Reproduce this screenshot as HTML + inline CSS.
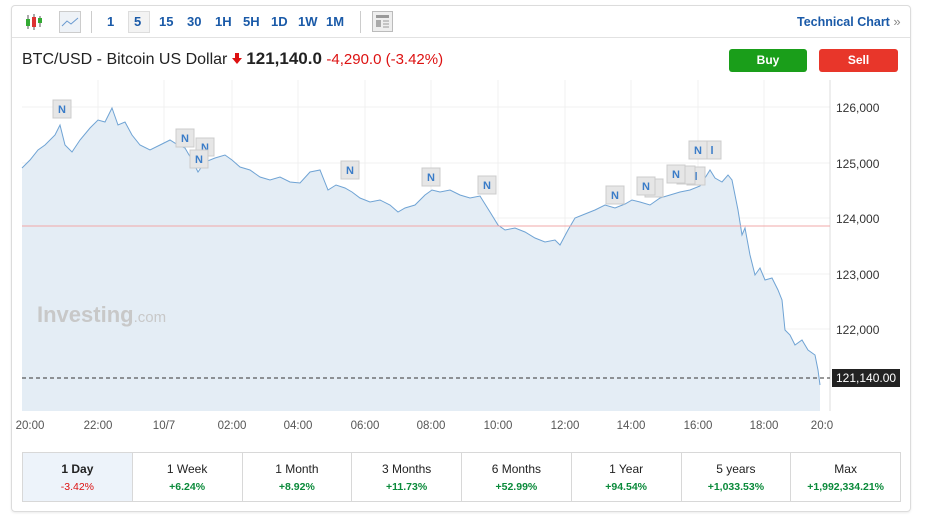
<!DOCTYPE html>
<html><head><meta charset="utf-8"><style>
body{margin:0;width:926px;height:522px;background:#fff;font-family:"Liberation Sans",sans-serif;position:relative;overflow:hidden}
.card{position:absolute;left:11px;top:5px;width:898px;height:505px;border:1px solid #dcdcdc;border-radius:4px;box-shadow:0 1px 2px rgba(0,0,0,.08)}
.tb{position:absolute;left:0;top:0;width:898px;height:31px;border-bottom:1px solid #e2e2e2}
.tb span{position:absolute;top:8px;font-size:13px;font-weight:bold;color:#1a5aa8}
.hdr{position:absolute;left:22px;top:49px;font-size:16px;color:#222;white-space:nowrap}
.btn{position:absolute;top:49px;height:23px;border-radius:3px;color:#fff;font-weight:bold;font-size:12px;text-align:center;line-height:23px}
.per{position:absolute;left:22px;top:452px;width:877px;height:48px;border:1px solid #d8d8d8;display:flex}
.per div{flex:1;border-left:1px solid #d8d8d8;text-align:center;font-size:12px;color:#222;padding-top:9px;box-sizing:border-box}
.per div:first-child{border-left:0;background:#edf3fa;font-weight:bold}
.per b{display:block;font-size:10.5px;margin-top:5px;color:#0a8a3a}
</style></head><body>
<div class="card">
<div class="tb">
<svg style="position:absolute;left:12px;top:7px" width="20" height="18"><line x1="4" y1="2" x2="4" y2="16" stroke="#555"/><rect x="2" y="6" width="4" height="7" fill="#3a3"/><line x1="10" y1="1" x2="10" y2="17" stroke="#555"/><rect x="8" y="4" width="4" height="10" fill="#d33"/><line x1="16" y1="3" x2="16" y2="14" stroke="#555"/><rect x="14" y="5" width="4" height="5" fill="#3a3"/></svg>
<div style="position:absolute;left:47px;top:5px;width:20px;height:20px;border:1px solid #ccc;background:#eef2f7"><svg width="20" height="20"><polyline points="2,14 7,9 11,12 18,6" fill="none" stroke="#6a9ad0"/></svg></div>
<div style="position:absolute;left:79px;top:5px;width:1px;height:22px;background:#ccc"></div>
<span style="left:95px">1</span>
<div style="position:absolute;left:116px;top:5px;width:20px;height:20px;border:1px solid #ddd;background:#f3f3f3"></div>
<span style="left:122px">5</span><span style="left:147px">15</span><span style="left:175px">30</span><span style="left:203px">1H</span><span style="left:231px">5H</span><span style="left:259px">1D</span><span style="left:286px">1W</span><span style="left:314px">1M</span>
<div style="position:absolute;left:348px;top:5px;width:1px;height:22px;background:#ccc"></div>
<div style="position:absolute;left:360px;top:5px;width:19px;height:19px;border:1px solid #bbb;background:#eee"><svg width="19" height="19"><rect x="3" y="3" width="13" height="3" fill="#999"/><rect x="3" y="8" width="5" height="7" fill="#aaa"/><line x1="10" y1="9" x2="16" y2="9" stroke="#999"/><line x1="10" y1="12" x2="16" y2="12" stroke="#999"/><line x1="10" y1="15" x2="16" y2="15" stroke="#999"/></svg></div>
<span style="left:785px;font-size:12.5px">Technical Chart <span style="position:static;color:#888;font-weight:normal">»</span></span>
</div>
</div>
<div class="hdr">BTC/USD - Bitcoin US Dollar <svg width="10" height="12" style="vertical-align:-1px"><polygon points="3,0 7,0 7,5 10,5 5,11 0,5 3,5" fill="#d11"/></svg> <b style="font-size:17px">121,140.0</b> <span style="color:#d11;font-size:15px">-4,290.0 (-3.42%)</span></div>
<div class="btn" style="left:729px;width:78px;background:#1a9e1a">Buy</div>
<div class="btn" style="left:819px;width:79px;background:#e8362a">Sell</div>
<svg style="position:absolute;left:0;top:80px" width="926" height="360">
<g stroke="#f0f0f0"><line x1="22" y1="27" x2="830" y2="27"/><line x1="22" y1="83" x2="830" y2="83"/><line x1="22" y1="138" x2="830" y2="138"/><line x1="22" y1="194" x2="830" y2="194"/><line x1="22" y1="249" x2="830" y2="249"/>
<line x1="98" y1="0" x2="98" y2="331"/><line x1="164" y1="0" x2="164" y2="331"/><line x1="232" y1="0" x2="232" y2="331"/><line x1="298" y1="0" x2="298" y2="331"/><line x1="365" y1="0" x2="365" y2="331"/><line x1="431" y1="0" x2="431" y2="331"/><line x1="498" y1="0" x2="498" y2="331"/><line x1="565" y1="0" x2="565" y2="331"/><line x1="631" y1="0" x2="631" y2="331"/><line x1="698" y1="0" x2="698" y2="331"/><line x1="764" y1="0" x2="764" y2="331"/></g>
<line x1="830" y1="0" x2="830" y2="331" stroke="#ddd"/>
<g transform="translate(0,-80)">
<path d="M22,168 L30,160 38,150 45,145 55,135 60,125 65,145 72,152 80,140 90,128 98,120 105,122 112,108 118,125 125,122 132,135 140,145 150,150 160,145 170,140 178,145 185,148 192,160 198,172 205,162 215,158 225,155 232,160 240,167 250,170 260,177 270,180 280,177 290,182 300,183 310,172 320,170 328,190 336,185 345,188 352,192 360,198 370,202 380,200 390,205 398,212 405,208 415,205 425,195 432,190 440,192 450,190 460,195 470,198 480,196 490,212 498,225 505,230 515,228 525,232 535,238 545,242 555,240 560,245 568,230 575,218 585,214 595,210 605,205 615,208 625,204 632,200 640,202 650,205 660,198 670,195 680,192 690,190 700,186 710,170 715,178 722,182 728,175 732,180 738,210 742,235 745,228 750,255 755,275 760,268 765,280 772,278 778,290 782,300 785,330 790,335 795,345 802,340 808,350 815,355 818,370 820,385 L820,411 L22,411Z" fill="#e4edf5"/>
<path d="M22,168 L30,160 38,150 45,145 55,135 60,125 65,145 72,152 80,140 90,128 98,120 105,122 112,108 118,125 125,122 132,135 140,145 150,150 160,145 170,140 178,145 185,148 192,160 198,172 205,162 215,158 225,155 232,160 240,167 250,170 260,177 270,180 280,177 290,182 300,183 310,172 320,170 328,190 336,185 345,188 352,192 360,198 370,202 380,200 390,205 398,212 405,208 415,205 425,195 432,190 440,192 450,190 460,195 470,198 480,196 490,212 498,225 505,230 515,228 525,232 535,238 545,242 555,240 560,245 568,230 575,218 585,214 595,210 605,205 615,208 625,204 632,200 640,202 650,205 660,198 670,195 680,192 690,190 700,186 710,170 715,178 722,182 728,175 732,180 738,210 742,235 745,228 750,255 755,275 760,268 765,280 772,278 778,290 782,300 785,330 790,335 795,345 802,340 808,350 815,355 818,370 820,385" fill="none" stroke="#6fa3d4" stroke-width="1"/>
<line x1="22" y1="226" x2="830" y2="226" stroke="#f2a8a8"/>
<line x1="22" y1="378" x2="830" y2="378" stroke="#333" stroke-dasharray="4,3"/>
<text x="37" y="322" font-size="22" font-weight="bold" fill="#c8c8c8">Investing<tspan font-size="15" font-weight="normal">.com</tspan></text>
<g font-size="12" fill="#333"><text x="836" y="112">126,000</text><text x="836" y="168">125,000</text><text x="836" y="223">124,000</text><text x="836" y="279">123,000</text><text x="836" y="334">122,000</text></g>
<rect x="832" y="369" width="68" height="18" fill="#222"/><text x="836" y="382" font-size="12" fill="#fff">121,140.00</text>
<g font-size="11.5" fill="#555" text-anchor="middle"><text x="30" y="429">20:00</text><text x="98" y="429">22:00</text><text x="164" y="429">10/7</text><text x="232" y="429">02:00</text><text x="298" y="429">04:00</text><text x="365" y="429">06:00</text><text x="431" y="429">08:00</text><text x="498" y="429">10:00</text><text x="565" y="429">12:00</text><text x="631" y="429">14:00</text><text x="698" y="429">16:00</text><text x="764" y="429">18:00</text><text x="822" y="429">20:0</text></g>
<g font-size="11" font-weight="bold" fill="#3a7cc8" text-anchor="middle">
<g transform="translate(62,109)"><rect x="-9" y="-9" width="18" height="18" fill="#e6e6e6" stroke="#ccc"/><text y="4">N</text></g>
<g transform="translate(185,138)"><rect x="-9" y="-9" width="18" height="18" fill="#e6e6e6" stroke="#ccc"/><text y="4">N</text></g>
<g transform="translate(205,147)"><rect x="-9" y="-9" width="18" height="18" fill="#e6e6e6" stroke="#ccc"/><text y="4">N</text></g>
<g transform="translate(199,159)"><rect x="-9" y="-9" width="18" height="18" fill="#e6e6e6" stroke="#ccc"/><text y="4">N</text></g>
<g transform="translate(350,170)"><rect x="-9" y="-9" width="18" height="18" fill="#e6e6e6" stroke="#ccc"/><text y="4">N</text></g>
<g transform="translate(431,177)"><rect x="-9" y="-9" width="18" height="18" fill="#e6e6e6" stroke="#ccc"/><text y="4">N</text></g>
<g transform="translate(487,185)"><rect x="-9" y="-9" width="18" height="18" fill="#e6e6e6" stroke="#ccc"/><text y="4">N</text></g>
<g transform="translate(615,195)"><rect x="-9" y="-9" width="18" height="18" fill="#e6e6e6" stroke="#ccc"/><text y="4">N</text></g>
<g transform="translate(654,188)"><rect x="-9" y="-9" width="18" height="18" fill="#e6e6e6" stroke="#ccc"/></g>
<g transform="translate(646,186)"><rect x="-9" y="-9" width="18" height="18" fill="#e6e6e6" stroke="#ccc"/><text y="4">N</text></g>
<g transform="translate(696,176)"><rect x="-9" y="-9" width="18" height="18" fill="#e6e6e6" stroke="#ccc"/><text y="4">l</text></g>
<g transform="translate(686,175)"><rect x="-9" y="-9" width="18" height="18" fill="#e6e6e6" stroke="#ccc"/></g>
<g transform="translate(676,174)"><rect x="-9" y="-9" width="18" height="18" fill="#e6e6e6" stroke="#ccc"/><text y="4">N</text></g>
<g transform="translate(712,150)"><rect x="-9" y="-9" width="18" height="18" fill="#e6e6e6" stroke="#ccc"/><text y="4">l</text></g>
<g transform="translate(698,150)"><rect x="-9" y="-9" width="18" height="18" fill="#e6e6e6" stroke="#ccc"/><text y="4">N</text></g>
</g></g></svg>
<div class="per">
<div>1 Day<b style="color:#d11;font-weight:normal">-3.42%</b></div><div>1 Week<b>+6.24%</b></div><div>1 Month<b>+8.92%</b></div><div>3 Months<b>+11.73%</b></div><div>6 Months<b>+52.99%</b></div><div>1 Year<b>+94.54%</b></div><div>5 years<b>+1,033.53%</b></div><div>Max<b>+1,992,334.21%</b></div>
</div>
</body></html>
